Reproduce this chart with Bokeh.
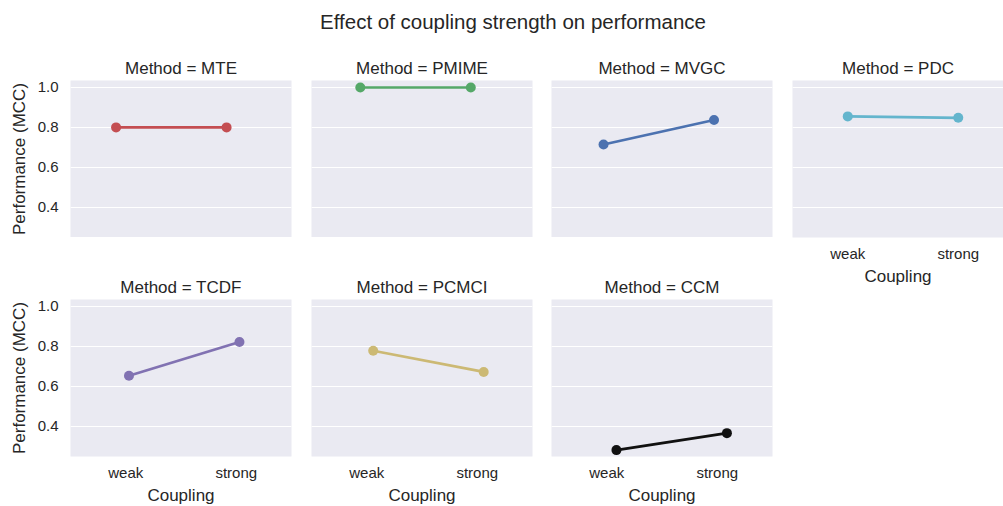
from bokeh.plotting import figure
from bokeh.layouts import row, column
from bokeh.models import Range1d, FixedTicker, Label, ColumnDataSource, NumeralTickFormatter, CustomJSTickFormatter
from bokeh.transform import dodge
from bokeh.embed import file_html
from bokeh.resources import INLINE
import numpy as np

# ---- data -------------------------------------------------------------
methods = ["MTE", "PMIME", "MVGC", "PDC", "TCDF", "PCMCI", "CCM"]
couplings = ["weak", "strong"]
weak_mcc = [0.80, 1.00, 0.714, 0.855, 0.653, 0.778, 0.280]
strong_mcc = [0.80, 1.00, 0.837, 0.848, 0.822, 0.672, 0.365]
y_ticks = [0.4, 0.6, 0.8, 1.0]
palette = ["#C44E52", "#55A868", "#4C72B0", "#64B5CD", "#8172B2", "#CCB974", "#111111"]

title_text = "Effect of coupling strength on performance"
x_label = "Coupling"
y_label = "Performance (MCC)"

# ---- style ------------------------------------------------------------
FONT = "Liberation Sans"
INK = "#262626"
PANEL_BG = "#EAEAF2"
FULL_W = 221          # full facet width in px
FRAME_H = 157
Y_LIM = (0.248, 1.035)
X_LIM = (-0.5, 1.5)

# seaborn-style dodge of hue levels
n = len(methods)
spread = 0.025 * n
offsets = np.linspace(0, spread, n) - spread / 2


def make_panel(k, frame_w, left, right, top, bottom, show_y, show_x):
    x_end = X_LIM[0] + (X_LIM[1] - X_LIM[0]) * frame_w / FULL_W
    p = figure(frame_width=frame_w, frame_height=FRAME_H,
               x_range=Range1d(X_LIM[0], x_end), y_range=Range1d(*Y_LIM),
               min_border_left=left, min_border_right=right,
               min_border_top=top, min_border_bottom=bottom,
               x_axis_location="below" if show_x else None,
               y_axis_location="left" if show_y else None,
               toolbar_location=None, output_backend="svg",
               title=f"Method = {methods[k]}")
    p.title.align = "center"
    p.title.text_font = FONT
    p.title.text_font_size = "17px"
    p.title.text_font_style = "normal"
    p.title.text_color = INK
    p.title.standoff = 5

    p.background_fill_color = PANEL_BG
    p.border_fill_color = "white"
    p.outline_line_color = None
    p.xgrid.visible = False
    p.ygrid.ticker = FixedTicker(ticks=y_ticks)
    p.ygrid.grid_line_color = "white"
    p.ygrid.grid_line_width = 1.2

    if show_y:
        ax = p.yaxis[0]
        ax.ticker = FixedTicker(ticks=y_ticks)
        ax.formatter = NumeralTickFormatter(format="0.0")
        ax.axis_line_color = None
        ax.major_tick_line_color = None
        ax.minor_tick_line_color = None
        ax.major_tick_out = 0
        ax.major_tick_in = 0
        ax.major_label_standoff = 12
        ax.major_label_text_font = FONT
        ax.major_label_text_font_size = "15px"
        ax.major_label_text_color = INK
        ax.axis_label = y_label
        ax.axis_label_text_font = FONT
        ax.axis_label_text_font_style = "normal"
        ax.axis_label_text_font_size = "17px"
        ax.axis_label_text_color = INK
        ax.axis_label_standoff = 6

    if show_x:
        ax = p.xaxis[0]
        ax.ticker = FixedTicker(ticks=list(range(len(couplings))))
        ax.formatter = CustomJSTickFormatter(args=dict(cats=couplings),
                                             code="return cats[Math.round(tick)] || '';")
        ax.axis_line_color = None
        ax.major_tick_line_color = None
        ax.minor_tick_line_color = None
        ax.major_tick_out = 0
        ax.major_tick_in = 0
        ax.major_label_standoff = 7
        ax.major_label_text_font = FONT
        ax.major_label_text_font_size = "15px"
        ax.major_label_text_color = INK
        ax.axis_label = x_label
        ax.axis_label_text_font = FONT
        ax.axis_label_text_font_style = "normal"
        ax.axis_label_text_font_size = "17px"
        ax.axis_label_text_color = INK
        ax.axis_label_standoff = 2

    src = ColumnDataSource(dict(x=list(range(len(couplings))),
                                y=[weak_mcc[k], strong_mcc[k]]))
    xs = dodge("x", float(offsets[k]), range=p.x_range)
    p.line(x=xs, y="y", source=src, line_color=palette[k], line_width=2.7)
    p.scatter(x=xs, y="y", source=src, size=10, fill_color=palette[k],
              line_color=palette[k], line_width=0)
    return p


# column borders (left, right) and frame widths
cols = [(70, 10, FULL_W), (10, 9, FULL_W), (10, 10, FULL_W), (10, 0, 211)]

# top row: MTE, PMIME, MVGC, PDC; bottom row: TCDF, PCMCI, CCM
top_idx = [0, 1, 2, 3]
bot_idx = [4, 5, 6]

TITLE_H = 40
ROW1_TOP = 80 - TITLE_H
ROW2_TOP = 62
BOTTOM = 50

columns = []
for c, (l, r, fw) in enumerate(cols):
    if c < 3:
        p1 = make_panel(top_idx[c], fw, l, r, ROW1_TOP, 0, show_y=(c == 0), show_x=False)
        p2 = make_panel(bot_idx[c], fw, l, r, ROW2_TOP, BOTTOM, show_y=(c == 0), show_x=True)
        columns.append(column(p1, p2, spacing=0))
    else:
        p1 = make_panel(top_idx[c], fw, l, r, ROW1_TOP, BOTTOM, show_y=False, show_x=True)
        columns.append(column(p1, spacing=0))

# figure-level title
t = figure(width=1003, height=TITLE_H, x_range=Range1d(0, 1), y_range=Range1d(0, 1),
           min_border=0, x_axis_location=None, y_axis_location=None,
           toolbar_location=None, output_backend="svg", title=None)
t.outline_line_color = None
t.grid.visible = False
t.background_fill_color = "white"
t.border_fill_color = "white"
t.add_layout(Label(x=512.5, y=TITLE_H - 21, x_units="screen", y_units="screen",
                   text=title_text, text_align="center", text_baseline="alphabetic",
                   text_font=FONT, text_font_size="20.5px", text_color=INK))

layout = column(t, row(*columns, spacing=0), spacing=0)

with open("out.html", "w") as f:
    f.write(file_html(layout, INLINE))
